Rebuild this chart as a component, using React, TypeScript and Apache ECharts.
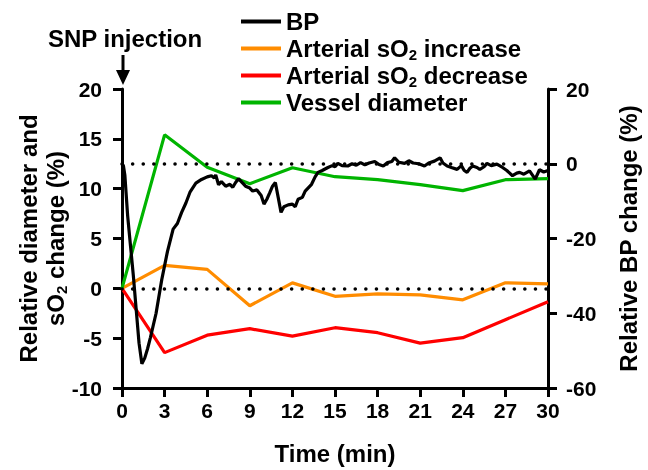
import React, { useEffect, useRef } from "react";
import * as echarts from "echarts";

const FONT = "'Liberation Sans', Arial, sans-serif";

// Time points (min) for the sO2 / diameter series
const times = [0, 3, 6, 9, 12, 15, 18, 21, 24, 27, 30];
const sO2Increase = [0, 2.3, 1.9, -1.75, 0.55, -0.8, -0.56, -0.66, -1.15, 0.55, 0.45];
const sO2Decrease = [0, -6.45, -4.7, -4.05, -4.8, -3.95, -4.45, -5.5, -4.95, -3.15, -1.35];
const vesselDiameter = [0, 15.4, 12.15, 10.5, 12.1, 11.2, 10.9, 10.4, 9.8, 10.9, 11.0];

// Blood pressure trace (right axis)
const bpTimes = [
  0, 0.1, 0.2, 0.4, 0.6, 0.8, 1.0, 1.2, 1.4, 1.6, 1.8, 2.0, 2.4, 2.8, 3.2, 3.6, 3.9, 4.2, 4.5, 4.8,
  5.2, 5.6, 6.0, 6.3, 6.5, 6.6, 6.8, 7.0, 7.3, 7.6, 7.8, 8.0, 8.2, 8.5, 8.7, 9.0, 9.2, 9.5, 9.8, 10.0,
  10.2, 10.4, 10.6, 10.8, 11.0, 11.2, 11.4, 11.7, 12.0, 12.2, 12.4, 12.7, 12.9, 13.1, 13.35, 13.6, 13.8, 14.1, 14.5, 14.8,
  15.0, 15.2, 15.5, 15.9, 16.2, 16.5, 16.8, 17.1, 17.4, 17.8, 18.1, 18.4, 18.7, 19.0, 19.2, 19.5, 19.9, 20.2, 20.5, 20.9,
  21.3, 21.6, 22.0, 22.4, 22.6, 22.9, 23.2, 23.6, 23.9, 24.1, 24.3, 24.5, 24.7, 25.0, 25.2, 25.5, 25.7, 26.0, 26.4, 26.8,
  27.1, 27.5, 27.8, 28.0, 28.3, 28.7, 29.1, 29.4, 29.7, 30.0,
];
const bpValues = [
  0, -0.5, -3, -14, -22, -30, -39, -48, -53.5, -52, -49.5, -46.5, -40, -31, -23.5, -17.5, -16, -13, -10.5, -7.5,
  -5.2, -4.2, -3.5, -3.2, -3.8, -3.0, -5.6, -4.8, -6.0, -5.5, -6.3, -5.0, -4.0, -5.2, -6.0, -6.5, -7.3, -7.0, -8.5, -10.8,
  -9.5, -7.8, -6.0, -5.0, -9.0, -13, -11.5, -11.0, -10.8, -11.5, -9.5, -9.0, -7.3, -6.5, -5.5, -3.5, -2.3, -1.8, -1.0, -0.5,
  -0.8, 0.1, -0.5, -0.6, 0.0, -0.4, 0.3, -0.3, 0.2, 0.6, -0.2, -0.6, 0.3, 0.6, 1.6, 0.4, 0.1, 0.8, 0.2, 0.0,
  -0.6, 0.2, 0.7, 1.6, 0.2, -0.6, -1.0, -1.5, -0.5, -1.8, -2.3, -1.2, -0.6, -1.0, -1.5, -0.8, 0.1, -0.5, -0.1, -1.0,
  -1.8, -3.2, -2.5, -2.3, -2.8, -1.9, -4.1, -1.6, -2.2, -1.8,
];

const xTicks = { min: 0, max: 30, interval: 3 };
const leftTicks = { min: -10, max: 20, interval: 5 };
const rightTicks = { min: -60, max: 20, interval: 20 };

const pair = (xs: number[], ys: number[]) => xs.map((x, i) => [x, ys[i]]);

const dotted = {
  color: "#000",
  width: 3.5,
  type: [0.1, 10.5] as any,
  cap: "round" as any,
};

export default function App() {
  const ref = useRef<HTMLDivElement>(null);
  useEffect(() => {
    if (!ref.current) return;
    const chart = echarts.init(ref.current, undefined, { renderer: "svg" });
    const axisLine = { show: true, onZero: false, lineStyle: { color: "#000", width: 3 } };
    const axisTick = { show: true, length: 9, lineStyle: { color: "#000", width: 3 } };
    const labelStyle = { color: "#000", fontSize: 21, fontWeight: "bold" as const, fontFamily: FONT };
    const nameStyle = { color: "#000", fontSize: 24, fontWeight: "bold" as const, fontFamily: FONT };
    const subRich = {
      sub: { fontSize: 15, fontWeight: "bold", fontFamily: FONT, color: "#000", verticalAlign: "bottom", lineHeight: 18 },
    };
    const lineSeries = (name: string, data: any[], color: string, yAxisIndex: number, extra: any = {}) => ({
      name,
      type: "line",
      data,
      yAxisIndex,
      symbol: "none",
      showSymbol: false,
      lineStyle: { color, width: 3.2 },
      itemStyle: { color },
      ...extra,
    });
    chart.setOption({
      animation: false,
      grid: { left: 122, right: 96, top: 89, bottom: 79, containLabel: false },
      legend: {
        orient: "vertical",
        left: 236,
        top: 3,
        itemGap: 0,
        itemWidth: 40,
        itemHeight: 4,
        icon: "rect",
        selectedMode: false,
        data: ["BP", "Arterial sO2 increase", "Arterial sO2 decrease", "Vessel diameter"],
        formatter: (name: string) => name.replace("sO2", "sO{sub|2}"),
        textStyle: { ...nameStyle, lineHeight: 27, rich: subRich },
      },
      xAxis: {
        type: "value",
        ...xTicks,
        axisLine,
        axisTick,
        splitLine: { show: false },
        axisLabel: { ...labelStyle, margin: 12 },
        name: "Time (min)",
        nameLocation: "middle",
        nameGap: 53,
        nameMoveOverlap: false,
        nameTextStyle: nameStyle,
      },
      yAxis: [
        {
          type: "value",
          position: "left",
          ...leftTicks,
          axisLine,
          axisTick,
          splitLine: { show: false },
          axisLabel: { ...labelStyle, margin: 20 },
          name: "Relative diameter and\nsO{sub|2} change (%)",
          nameLocation: "middle",
          nameRotate: 90,
          nameGap: 53,
          nameMoveOverlap: false,
          nameTextStyle: { ...nameStyle, lineHeight: 27, rich: subRich },
        },
        {
          type: "value",
          position: "right",
          ...rightTicks,
          axisLine,
          axisTick,
          splitLine: { show: false },
          axisLabel: { ...labelStyle, margin: 18 },
          name: "Relative BP change (%)",
          nameLocation: "middle",
          nameRotate: 90,
          nameGap: 68,
          nameMoveOverlap: false,
          nameTextStyle: nameStyle,
        },
      ],
      series: [
        lineSeries("Arterial sO2 increase", pair(times, sO2Increase), "#FF8C00", 0, {
          markLine: {
            silent: true,
            symbol: "none",
            label: { show: false },
            lineStyle: dotted,
            data: [{ yAxis: 0 }],
          },
        }),
        lineSeries("Arterial sO2 decrease", pair(times, sO2Decrease), "#FF0000", 0),
        lineSeries("Vessel diameter", pair(times, vesselDiameter), "#00B400", 0),
        lineSeries("BP", pair(bpTimes, bpValues), "#000000", 1, {
          markLine: {
            silent: true,
            symbol: "none",
            label: { show: false },
            lineStyle: dotted,
            data: [{ yAxis: 0 }],
          },
        }),
      ],
    });
    const x0 = chart.convertToPixel({ xAxisIndex: 0 }, 0) as number;
    chart.setOption({
      graphic: [
        {
          type: "text",
          x: x0 + 3,
          y: 38,
          style: {
            text: "SNP injection",
            fill: "#000",
            font: `bold 24px ${FONT}`,
            align: "center",
            verticalAlign: "middle",
          },
        },
        {
          type: "line",
          shape: { x1: x0 + 1, y1: 55, x2: x0 + 1, y2: 72 },
          style: { stroke: "#000", lineWidth: 3 },
        },
        {
          type: "polygon",
          shape: { points: [[x0 - 6, 70], [x0 + 8, 70], [x0 + 1, 85]] },
          style: { fill: "#000" },
        },
      ],
    });
    return () => chart.dispose();
  }, []);
  return <div ref={ref} style={{ position: "fixed", left: 0, top: 0, width: 648, height: 470 }} />;
}
